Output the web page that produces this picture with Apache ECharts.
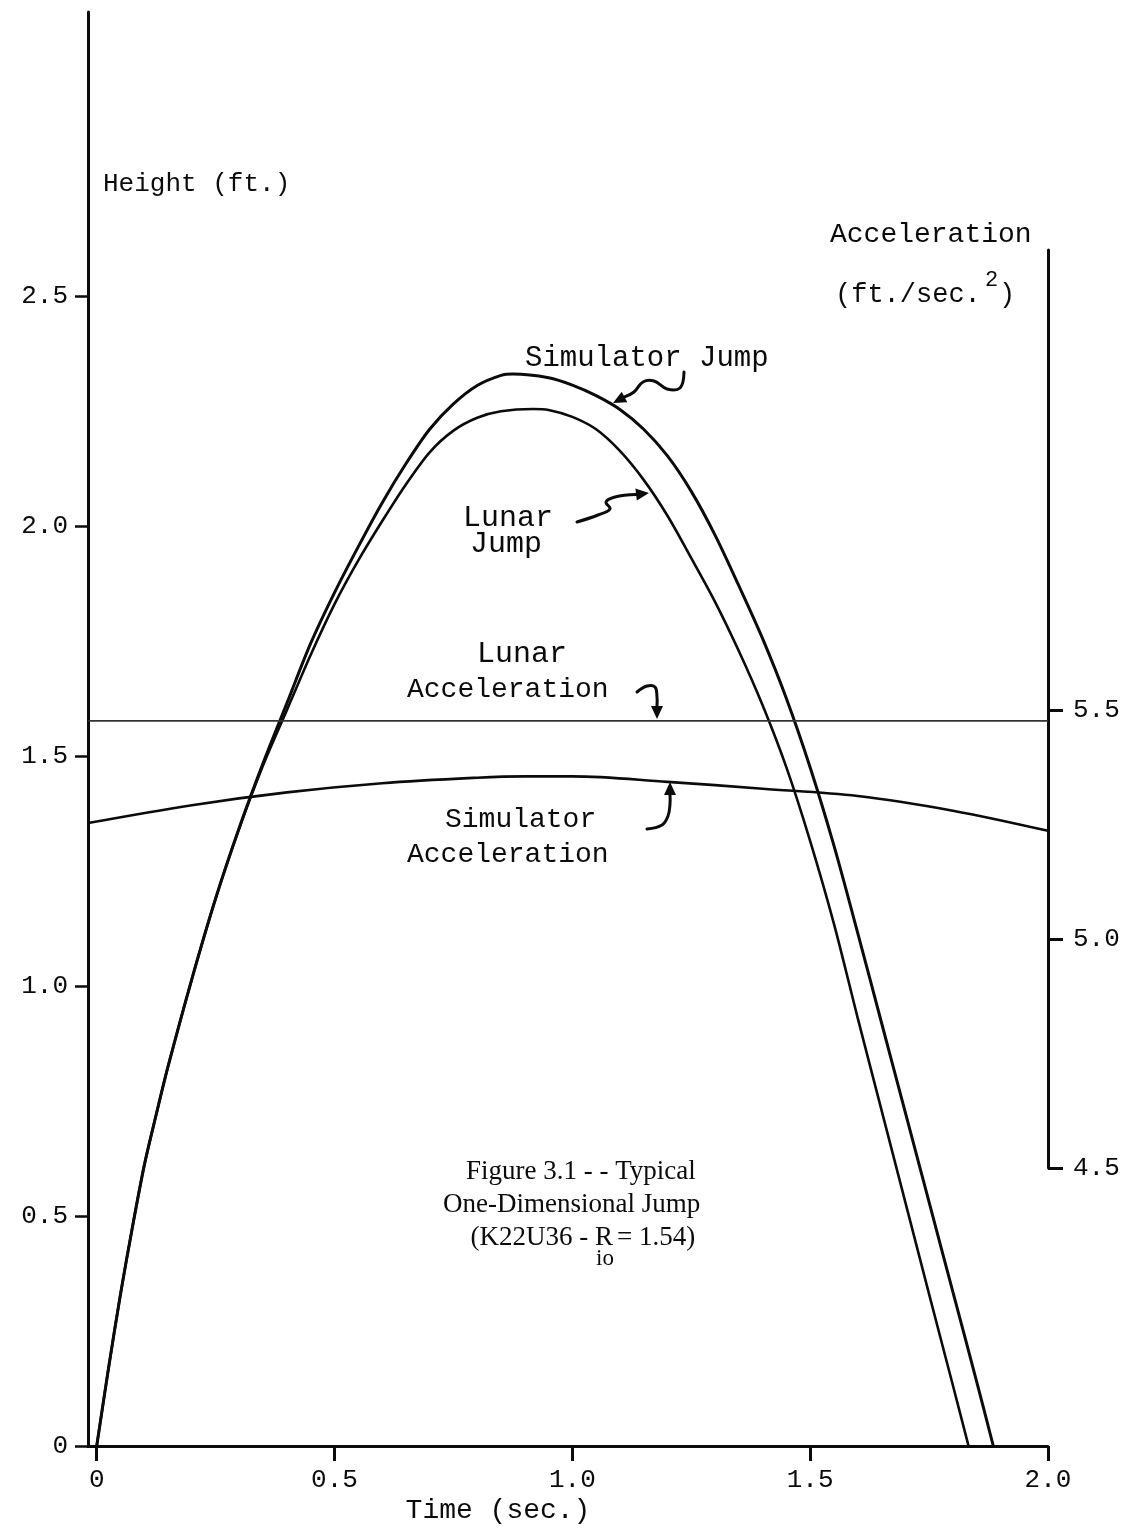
<!DOCTYPE html>
<html>
<head>
<meta charset="utf-8">
<title>Typical One-Dimensional Jump</title>
<script src="https://cdn.jsdelivr.net/npm/echarts@6/dist/echarts.min.js"></script>
<style>
  html, body { margin: 0; padding: 0; background: #fff; }
  #chart { width: 1130px; height: 1530px; }
</style>
</head>
<body>
<div id="chart"></div>
<script>
// Tick values for the three scales
const timeTicks = [0, 0.5, 1.0, 1.5, 2.0];
const heightTicks = [0, 0.5, 1.0, 1.5, 2.0, 2.5];
const accelTicks = [4.5, 5.0, 5.5];

// Height (ft.) versus time (sec.) for the simulator jump
const simJumpTime = [0, 0.025, 0.05, 0.075, 0.1, 0.125, 0.15, 0.2, 0.25, 0.3, 0.35, 0.4, 0.45,
  0.5, 0.55, 0.6, 0.65, 0.7, 0.75, 0.8, 0.85, 0.875, 0.95, 1.0, 1.05, 1.1, 1.15, 1.2, 1.25, 1.3,
  1.35, 1.4, 1.45, 1.5, 1.55, 1.6, 1.65, 1.7, 1.75, 1.8, 1.85, 1.885];
const simJumpHeight = [0, 0.17, 0.33, 0.475, 0.61, 0.72, 0.825, 1.015, 1.19, 1.345, 1.485, 1.615, 1.745,
  1.855, 1.955, 2.05, 2.135, 2.21, 2.265, 2.305, 2.327, 2.33, 2.322, 2.306, 2.283, 2.253, 2.21, 2.152, 2.075, 1.98,
  1.87, 1.755, 1.625, 1.475, 1.305, 1.115, 0.92, 0.725, 0.53, 0.335, 0.14, 0];

// Height (ft.) versus time (sec.) for the lunar jump
const lunarJumpTime = [0, 0.025, 0.05, 0.075, 0.1, 0.125, 0.15, 0.2, 0.25, 0.3, 0.35, 0.4, 0.45,
  0.5, 0.55, 0.6, 0.65, 0.7, 0.75, 0.8, 0.85, 0.917, 0.95, 1.0, 1.05, 1.1, 1.15, 1.2, 1.25, 1.3,
  1.35, 1.4, 1.45, 1.5, 1.55, 1.6, 1.65, 1.7, 1.75, 1.8, 1.833];
const lunarJumpHeight = [0, 0.17, 0.33, 0.475, 0.61, 0.72, 0.825, 1.015, 1.19, 1.343, 1.48, 1.60, 1.72,
  1.83, 1.925, 2.01, 2.09, 2.16, 2.207, 2.235, 2.249, 2.254, 2.252, 2.237, 2.21, 2.163, 2.10, 2.022, 1.93, 1.835,
  1.728, 1.61, 1.475, 1.315, 1.135, 0.93, 0.73, 0.53, 0.33, 0.132, 0];

// Acceleration (ft./sec.^2) versus time (sec.)
const simAccelTime = [-0.018, 0.2, 0.4, 0.6, 0.8, 0.9, 1.0, 1.2, 1.4, 1.6, 1.8, 2.0];
const simAccel = [5.253, 5.292, 5.320, 5.340, 5.352, 5.355, 5.355, 5.343, 5.328, 5.312, 5.28, 5.236];
const lunarAccelTime = [-0.018, 2.0];
const lunarAccel = [5.476, 5.476];

const pairs = (xs, ys) => xs.map((x, i) => [x, ys[i]]);

const INK = '#0b0b0b';
const MONO = '"Liberation Mono", "DejaVu Sans Mono", monospace';
const SERIF = '"Liberation Serif", "DejaVu Serif", serif';

// Text placed by its baseline
function label(text, x, baseline, size, family, align) {
  return {
    type: 'text', silent: true, x: x, y: baseline - 0.3 * size,
    style: {
      text: text, font: size + 'px ' + family, fill: INK,
      align: align || 'left', textAlign: align || 'left',
      verticalAlign: 'middle', textVerticalAlign: 'middle'
    }
  };
}

// Hand-drawn style pointer: a curved stroke ending in a filled head
function pointer(points, tip, len, half) {
  const from = points[points.length - 1];
  const dx = tip[0] - from[0], dy = tip[1] - from[1];
  const d = Math.hypot(dx, dy) || 1;
  const ux = dx / d, uy = dy / d;
  const bx = tip[0] - ux * len, by = tip[1] - uy * len;
  return [
    {
      type: 'polyline', silent: true,
      shape: { points: points.concat([[bx, by]]), smooth: 0.4 },
      style: { stroke: INK, lineWidth: 3, fill: null, lineCap: 'round', lineJoin: 'round' }
    },
    {
      type: 'polygon', silent: true,
      shape: { points: [tip, [bx - uy * half, by + ux * half], [bx + uy * half, by - ux * half]] },
      style: { fill: INK }
    }
  ];
}

const axisText = { color: INK, fontFamily: MONO, fontSize: 26 };
const oneDecimal = v => (v === 0 ? '0' : v.toFixed(1));

const graphics = [
  label('Height (ft.)', 103, 192, 26, MONO),
  label('Acceleration', 830, 243, 28, MONO),
  label('(ft./sec.', 835, 303, 27, MONO),
  label('2', 985, 287, 22, MONO),
  label(')', 999, 303, 27, MONO),
  label('Simulator Jump', 525, 367, 29, MONO),
  label('Lunar', 463, 527, 30, MONO),
  label('Jump', 470, 553, 30, MONO),
  label('Lunar', 477, 663, 30, MONO),
  label('Acceleration', 407, 698, 28, MONO),
  label('Simulator', 445, 828, 28, MONO),
  label('Acceleration', 407, 863, 28, MONO),
  label('Figure 3.1 - - Typical', 466, 1180, 27, SERIF),
  label('One-Dimensional Jump', 443, 1213, 27, SERIF),
  label('(K22U36 - R', 613, 1246, 27, SERIF, 'right'),
  label('io', 596, 1266, 23, SERIF),
  label('= 1.54)', 617, 1246, 27, SERIF),
  label('Time (sec.)', 498, 1519, 28, MONO, 'center')
]
  .concat(pointer([[684, 372], [680, 388], [667, 389], [654, 381], [643, 382], [634, 392]], [613, 403], 13, 6))
  .concat(pointer([[577, 522], [598, 515], [610, 509], [606, 502], [615, 497]], [649, 493], 13, 6))
  .concat(pointer([[637, 692], [647, 686], [655, 687], [657, 697]], [657, 719], 13, 6))
  .concat(pointer([[647, 829], [662, 825], [668, 816], [670, 804]], [670, 782], 13, 6));

const chart = echarts.init(document.getElementById('chart'), null, { renderer: 'canvas' });

chart.setOption({
  animation: false,
  backgroundColor: '#fff',
  grid: [
    { left: 88, right: 82, top: 12, bottom: 84, outerBoundsMode: 'none' },
    { left: 88, right: 82, top: 250, bottom: 362, outerBoundsMode: 'none' }
  ],
  xAxis: [
    {
      gridIndex: 0, type: 'value', min: -0.0183, max: 2.0,
      axisLine: { onZero: false, lineStyle: { color: INK, width: 3 } },
      axisTick: { customValues: timeTicks, length: 15, lineStyle: { color: INK, width: 3 } },
      axisLabel: Object.assign({ customValues: timeTicks, formatter: oneDecimal, margin: 21 }, axisText),
      splitLine: { show: false }
    },
    { gridIndex: 1, type: 'value', min: -0.0183, max: 2.0, show: false }
  ],
  yAxis: [
    {
      gridIndex: 0, type: 'value', min: 0, max: 3.117,
      axisLine: { show: true, onZero: false, lineStyle: { color: INK, width: 3 } },
      axisTick: { show: true, customValues: heightTicks, length: 13, lineStyle: { color: INK, width: 2.5 } },
      axisLabel: Object.assign({ customValues: heightTicks, formatter: oneDecimal, margin: 20 }, axisText),
      splitLine: { show: false }
    },
    {
      gridIndex: 1, type: 'value', position: 'right', min: 4.5, max: 6.504,
      axisLine: { show: true, onZero: false, lineStyle: { color: INK, width: 3 } },
      axisTick: { show: true, customValues: accelTicks, length: 15, lineStyle: { color: INK, width: 3 } },
      axisLabel: Object.assign({ customValues: accelTicks, formatter: v => v.toFixed(1), margin: 25 }, axisText),
      splitLine: { show: false }
    }
  ],
  series: [
    {
      name: 'Simulator Jump', type: 'line', xAxisIndex: 0, yAxisIndex: 0,
      data: pairs(simJumpTime, simJumpHeight), smooth: 0.3,
      showSymbol: false, lineStyle: { color: INK, width: 3 }
    },
    {
      name: 'Lunar Jump', type: 'line', xAxisIndex: 0, yAxisIndex: 0,
      data: pairs(lunarJumpTime, lunarJumpHeight), smooth: 0.3,
      showSymbol: false, lineStyle: { color: INK, width: 2.6 }
    },
    {
      name: 'Lunar Acceleration', type: 'line', xAxisIndex: 1, yAxisIndex: 1,
      data: pairs(lunarAccelTime, lunarAccel),
      showSymbol: false, lineStyle: { color: '#333', width: 1.6 }
    },
    {
      name: 'Simulator Acceleration', type: 'line', xAxisIndex: 1, yAxisIndex: 1,
      data: pairs(simAccelTime, simAccel), smooth: 0.35,
      showSymbol: false, lineStyle: { color: INK, width: 2.6 }
    }
  ],
  graphic: { elements: graphics }
});
</script>
</body>
</html>
